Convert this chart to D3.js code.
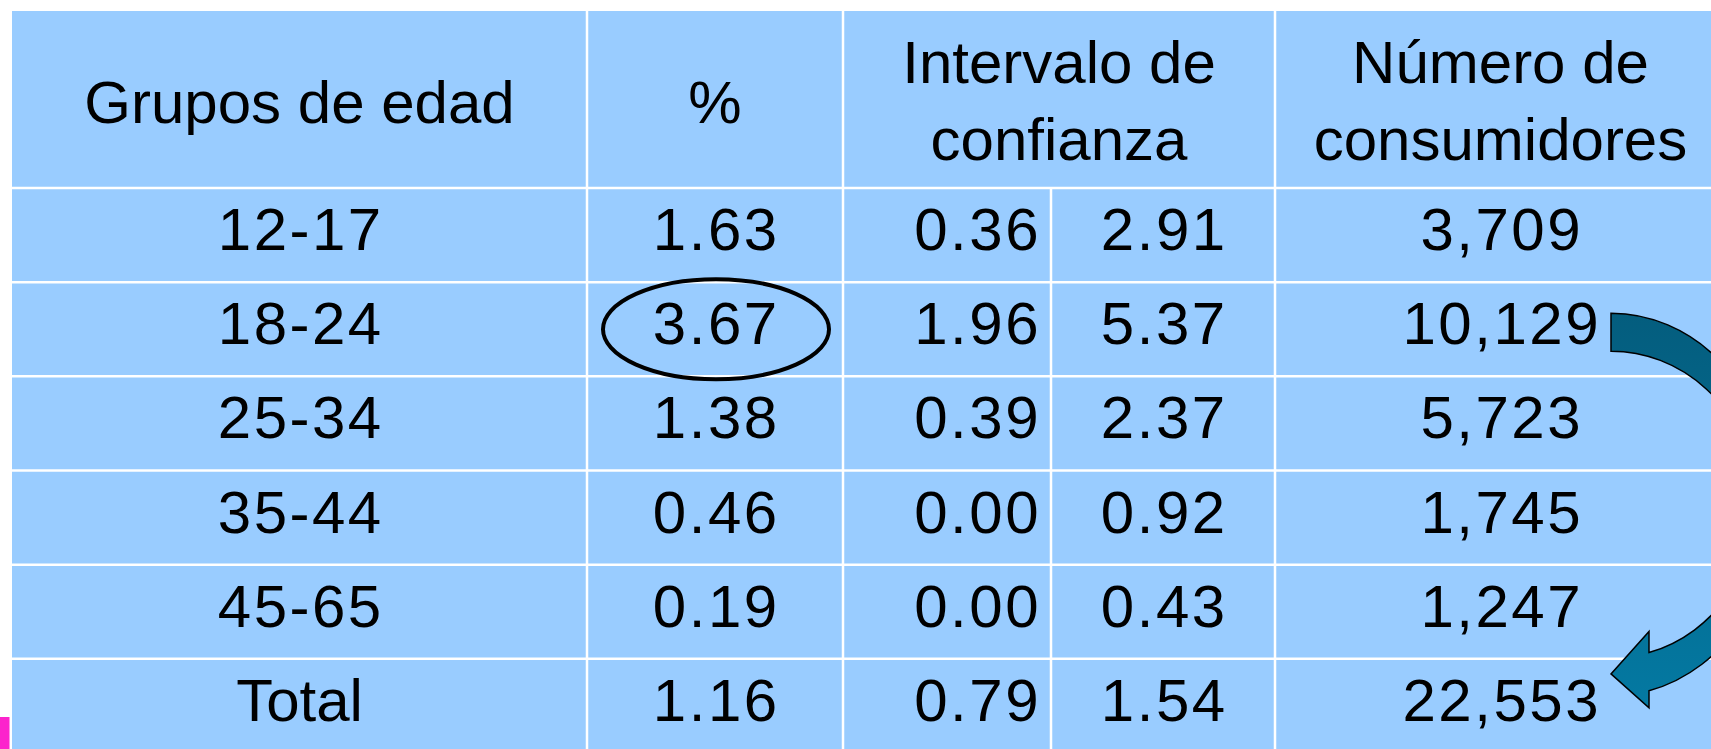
<!DOCTYPE html>
<html>
<head>
<meta charset="utf-8">
<script src="https://cdn.jsdelivr.net/npm/d3@7"></script>
<style>
  html, body { margin: 0; padding: 0; background: #fff; overflow: hidden; }
  svg { display: block; }
  text { font-family: "Liberation Sans", Arial, sans-serif; fill: #000; }
</style>
</head>
<body>
<svg id="chart" width="1711" height="749"></svg>
<script>
// Table contents
const groups = ["12-17", "18-24", "25-34", "35-44", "45-65", "Total"];
const pct = ["1.63", "3.67", "1.38", "0.46", "0.19", "1.16"];
const ciLow = ["0.36", "1.96", "0.39", "0.00", "0.00", "0.79"];
const ciHigh = ["2.91", "5.37", "2.37", "0.92", "0.43", "1.54"];
const consumers = ["3,709", "10,129", "5,723", "1,745", "1,247", "22,553"];
const headers = [["Grupos de edad"], ["%"], ["Intervalo de", "confianza"], ["Número de", "consumidores"]];

// Highlighted cell (row index into the arrays) and arrow from/to rows
const HIGHLIGHT_ROW = 1;
const ARROW_FROM = 1;
const ARROW_TO = 5;

const W = 1711, H = 749;
const FONT = 60;
const BG = "#99ccff";
const GRID = "#ffffff";

const svg = d3.select("#chart");

// Column edges: group | % | ci low | ci high | consumers
const colEdges = [12, 587, 843, 1051, 1275, 1726];
const TOP = 11, HEAD_BOTTOM = 188;

const row = d3.scaleBand()
  .domain(d3.range(groups.length))
  .range([HEAD_BOTTOM, 753])
  .paddingInner(0);

const colCenter = (i) => (colEdges[i] + colEdges[i + 1]) / 2;

// Background
svg.append("rect").attr("x", 0).attr("y", 0).attr("width", W).attr("height", H).attr("fill", "#fff");
svg.append("rect")
  .attr("x", colEdges[0]).attr("y", TOP)
  .attr("width", W - colEdges[0]).attr("height", H - TOP)
  .attr("fill", BG);

// Grid lines
const g = svg.append("g").attr("stroke", GRID).attr("stroke-width", 2.5);
[1, 2, 4].forEach((i) => {
  g.append("line").attr("x1", colEdges[i]).attr("x2", colEdges[i]).attr("y1", TOP).attr("y2", H);
});
g.append("line").attr("x1", colEdges[3]).attr("x2", colEdges[3]).attr("y1", HEAD_BOTTOM).attr("y2", H);
row.domain().forEach((i) => {
  const y = row(i);
  g.append("line").attr("x1", colEdges[0]).attr("x2", W).attr("y1", y).attr("y2", y);
});

// Header text
const headX = [colCenter(0), colCenter(1), (colEdges[2] + colEdges[4]) / 2, colCenter(4)];
const head = svg.append("g").attr("font-size", FONT).attr("text-anchor", "middle");
headers.forEach((lines, i) => {
  const baselines = lines.length === 1 ? [123] : [83, 160];
  lines.forEach((t, j) => {
    head.append("text").attr("x", headX[i]).attr("y", baselines[j]).text(t);
  });
});

// Body text - the original font has slightly wider digits
const body = svg.append("g").attr("font-size", FONT);
const BASE = 62;
const DIGIT_SPACING = 2.5;
const cols = [
  { values: groups, x: colCenter(0), anchor: "middle" },
  { values: pct, x: colCenter(1), anchor: "middle" },
  { values: ciLow, x: colEdges[3] - 10, anchor: "end" },
  { values: ciHigh, x: colCenter(3), anchor: "middle" },
  { values: consumers, x: colCenter(4), anchor: "middle" },
];
cols.forEach((c) => {
  body.selectAll(null)
    .data(c.values)
    .join("text")
    .attr("x", (d) => c.anchor === "middle" && /\d/.test(d) ? c.x + DIGIT_SPACING / 2 : c.x)
    .attr("y", (d, i) => row(i) + BASE)
    .attr("text-anchor", c.anchor)
    .attr("letter-spacing", (d) => /\d/.test(d) ? DIGIT_SPACING : 0)
    .text((d) => d);
});

// Ellipse around highlighted value
svg.append("ellipse")
  .attr("cx", colCenter(1) + 1)
  .attr("cy", row(HIGHLIGHT_ROW) + row.bandwidth() / 2)
  .attr("rx", 113)
  .attr("ry", 50)
  .attr("fill", "none")
  .attr("stroke", "#000")
  .attr("stroke-width", 4);

// Curved arrow from one consumer count to the total
const defs = svg.append("defs");
const grad = defs.append("linearGradient").attr("id", "arrowFill")
  .attr("x1", 0).attr("y1", 0).attr("x2", 0).attr("y2", 1);
grad.append("stop").attr("offset", "0%").attr("stop-color", "#045d7e");
grad.append("stop").attr("offset", "100%").attr("stop-color", "#0479a2");

const yFrom = row(ARROW_FROM) + row.bandwidth() / 2;
const yTo = row(ARROW_TO) + row.bandwidth() / 2;
const ax = 1611;                 // tail x / ellipse centre x
const tailTop = yFrom - 16, tailBot = yFrom + 22;
const tip = yTo - 32;
const cy = (yFrom + yTo) / 2 - 13;
const outer = { rx: 165, ry: cy - tailTop };
const inner = { rx: 145, ry: cy - tailBot };
const baseX = ax + 38;
const yOnEllipse = (e) => cy + e.ry * Math.sqrt(1 - Math.pow((baseX - ax) / e.rx, 2));
const outerBase = yOnEllipse(outer);
const innerBase = yOnEllipse(inner);

const arrowD =
  `M${ax},${tailTop}` +
  `A${outer.rx},${outer.ry} 0 0 1 ${baseX},${outerBase}` +
  `L${baseX},${outerBase + 17}` +
  `L${ax},${tip}` +
  `L${baseX},${innerBase - 21}` +
  `L${baseX},${innerBase}` +
  `A${inner.rx},${inner.ry} 0 0 0 ${ax},${tailBot}Z`;

svg.append("path")
  .attr("d", arrowD)
  .attr("fill", "url(#arrowFill)")
  .attr("stroke", "#000")
  .attr("stroke-width", 1.5)
  .attr("stroke-linejoin", "miter");

// Pink marker at bottom-left
svg.append("rect")
  .attr("x", 0).attr("y", 717)
  .attr("width", 9.5).attr("height", H - 717)
  .attr("fill", "#fc24cc");
</script>
</body>
</html>
